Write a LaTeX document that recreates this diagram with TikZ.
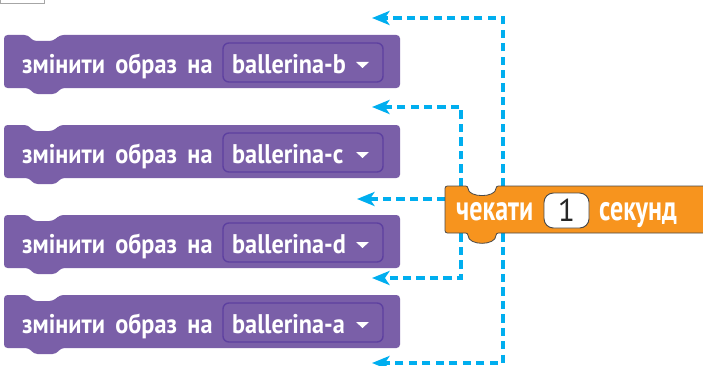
\documentclass[tikz,border=0pt]{standalone}
\usepackage{fontspec}
\setmainfont{PT Sans}
\newfontfamily\looksfont[FakeStretch=0.9, WordSpace=1.7]{PT Sans}
\newfontfamily\waitfont[FakeStretch=0.74]{PT Sans}
\usetikzlibrary{arrows.meta, positioning}
\definecolor{looks}{HTML}{7A5FA8}
\definecolor{looksdark}{HTML}{5D40A0}
\definecolor{control}{HTML}{F7941E}
\definecolor{flowblue}{HTML}{00AEEF}
\definecolor{edgegray}{HTML}{4A4A4A}

\begin{document}
\begin{tikzpicture}[x=0.03cm, y=-0.03cm,
    lookstext/.style = {anchor=base west, inner sep=0pt, text=white, font=\looksfont\bfseries\fontsize{23}{23}\selectfont},
    field/.style = {draw=looksdark, fill=looks, line width=1.2pt, rounded corners=5pt, minimum width=4.8cm, minimum height=1.17cm, inner sep=0pt},
    waittext/.style = {anchor=base west, inner sep=0pt, text=white, font=\waitfont\bfseries\fontsize{30}{30}\selectfont},
    slot/.style = {draw=edgegray, fill=white, line width=0.8pt, rounded corners=8pt, minimum width=1.35cm, minimum height=1.05cm, inner sep=0pt, text=black!85, font=\fontsize{27}{27}\selectfont},
    flow/.style = {draw=flowblue, line width=3pt, dash pattern=on 7pt off 4.5pt, -{Stealth[length=15pt, width=12pt, inset=4pt]}}
]
\clip (0,0) rectangle (703,366);
\fill[white] (0,0) rectangle (703,366);

% Page fragment
\draw[gray!70, line width=0.6pt] (0.5,-2) rectangle (44,3);

% Arrow targets
\coordinate (gap1) at (372,18);
\coordinate (gap2) at (372,107);
\coordinate (gap3) at (357,199);
\coordinate (gap4) at (372,278);
\coordinate (gap5) at (372,363);

% Wait block body
\node (waitblock) [inner sep=0pt, minimum width=8.25cm, minimum height=1.41cm, anchor=north west] at (445,186) {};

% Connectors
\draw [flow] (waitblock.north west) ++(58,0) |- (gap1);
\draw [flow] (waitblock.north west) ++(16,0) |- (gap2);
\draw [flow] (waitblock.north west) ++(0,13) -- (gap3);
\draw [flow] (waitblock.south west) ++(16,0) |- (gap4);
\draw [flow] (waitblock.south west) ++(58,0) |- (gap5);

% Looks blocks
\foreach \t/\c in {35/b, 125/c, 215/d, 295/a} {
    \fill[looks, rounded corners=3pt] (4,\t) -- (28,\t) -- (33,\t+6) -- (53,\t+6) -- (60,\t) -- (400,\t) -- (400,\t+53) -- (61,\t+53) -- (56,\t+59) -- (34,\t+59) -- (29,\t+53) -- (4,\t+53) -- cycle;
    \node (field\c) [field] at (303,\t+27.5) {};
    \node (say\c) [lookstext] at (22,\t+38) {змінити образ на};
    \node (costume\c) [lookstext] at (232,\t+38) {ballerina-\c};
    \fill[white] (356,\t+27) -- (369,\t+27) -- (362.5,\t+33) -- cycle;
}

% Wait block
\filldraw[fill=control, draw=edgegray, line width=0.7pt, rounded corners=2pt] (445,210) -- (445,186) -- (468,186) .. controls (468,198) and (496,198) .. (496,186) -- (720,186) -- (720,233) -- (496,233) .. controls (496,246) and (468,246) .. (468,233) -- (445,233) -- cycle;
\node (wait) [waittext] at (456,220) {чекати};
\node (secs) [slot] at (566.5,210.5) {1};
\node (unit) [waittext] at (599,220) {секунд};

\end{tikzpicture}
\end{document}
